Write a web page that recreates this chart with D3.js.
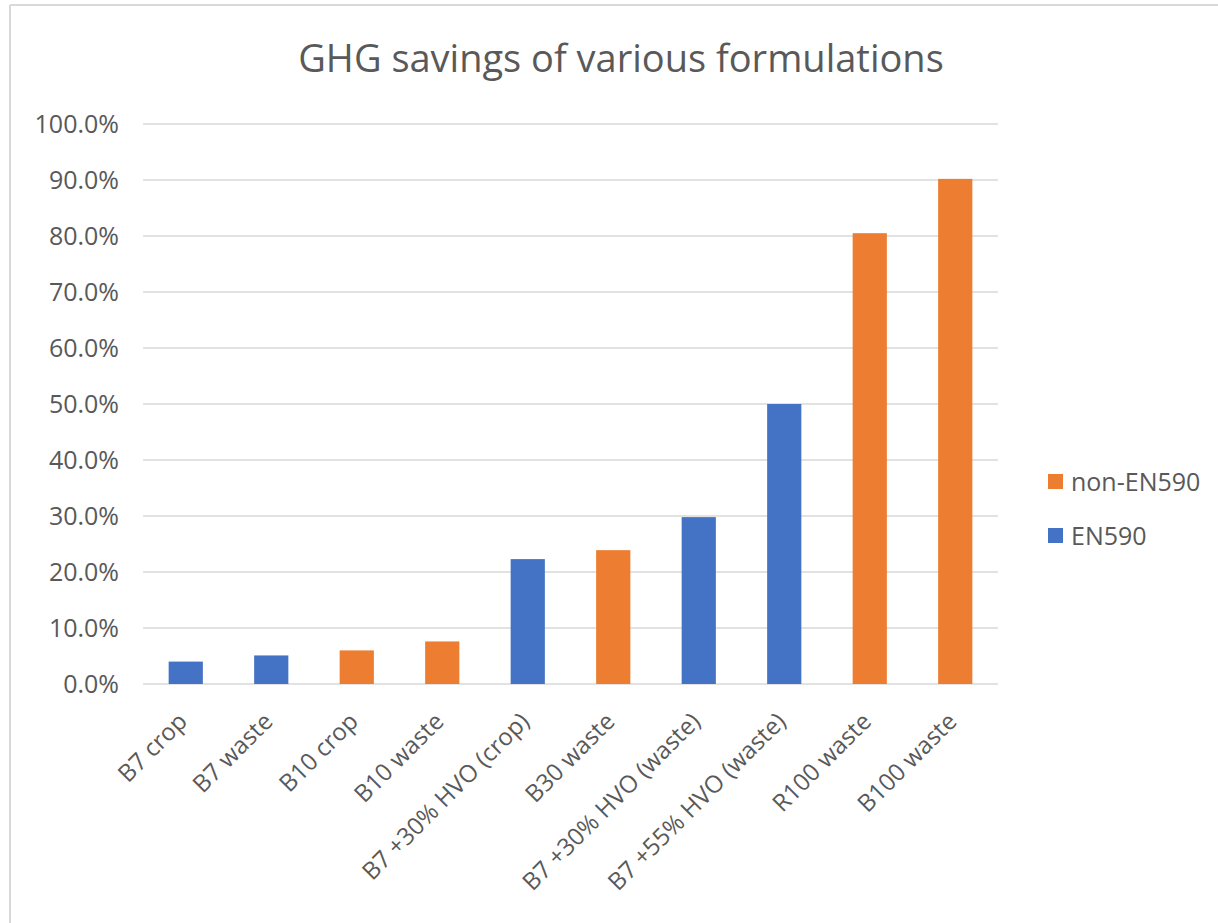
<!DOCTYPE html>
<html>
<head>
<meta charset="utf-8">
<script src="https://cdn.jsdelivr.net/npm/d3@7"></script>
<style>
  html, body { margin: 0; padding: 0; background: #fff; }
  svg { display: block; }
  text { font-family: "Open Sans", "Noto Sans", sans-serif; fill: #595959; }
</style>
</head>
<body>
<svg id="chart" width="1218" height="923"></svg>
<script>
const categories = ["B7 crop", "B7 waste", "B10 crop", "B10 waste", "B7 +30% HVO (crop)",
  "B30 waste", "B7 +30% HVO (waste)", "B7 +55% HVO (waste)", "R100 waste", "B100 waste"];
const values = [0.040, 0.051, 0.060, 0.076, 0.223, 0.239, 0.298, 0.500, 0.805, 0.902];
const groups = ["EN590", "EN590", "non-EN590", "non-EN590", "EN590",
  "non-EN590", "EN590", "EN590", "non-EN590", "non-EN590"];
const legendItems = ["non-EN590", "EN590"];
const yTicks = [0, 0.1, 0.2, 0.3, 0.4, 0.5, 0.6, 0.7, 0.8, 0.9, 1.0];
const title = "GHG savings of various formulations";

const colors = { "EN590": "#4472C4", "non-EN590": "#ED7D31" };

const svg = d3.select("#chart");
const W = 1218, H = 923;
const plot = { left: 143, right: 998, top: 124, bottom: 684 };

// chart frame (left + top border)
svg.append("line").attr("x1", 10).attr("x2", 10).attr("y1", 5).attr("y2", H)
  .attr("stroke", "#d9d9d9").attr("stroke-width", 2);
svg.append("line").attr("x1", 10).attr("x2", W).attr("y1", 5).attr("y2", 5)
  .attr("stroke", "#d9d9d9").attr("stroke-width", 2);

const x = d3.scaleBand().domain(categories).range([plot.left, plot.right]).paddingInner(0.6).paddingOuter(0.3);
const y = d3.scaleLinear().domain([0, 1]).range([plot.bottom, plot.top]);

// gridlines
svg.append("g").selectAll("line").data(yTicks).join("line")
  .attr("x1", plot.left).attr("x2", plot.right)
  .attr("y1", d => y(d)).attr("y2", d => y(d))
  .attr("stroke", "#d9d9d9").attr("stroke-width", 1.5);

// y axis labels
const yAxis = d3.axisLeft(y).tickValues(yTicks).tickFormat(d3.format(".1%")).tickSize(0).tickPadding(0);
const gy = svg.append("g").attr("transform", `translate(119,0)`).call(yAxis);
gy.select(".domain").remove();
gy.selectAll("text").attr("font-size", 25).attr("fill", "#595959")
  .attr("font-family", "Open Sans, sans-serif");

// bars
svg.append("g").selectAll("rect").data(categories).join("rect")
  .attr("x", d => x(d))
  .attr("width", x.bandwidth())
  .attr("y", (d, i) => y(values[i]))
  .attr("height", (d, i) => y(0) - y(values[i]))
  .attr("fill", (d, i) => colors[groups[i]]);

// x axis labels
const xAxis = d3.axisBottom(x).tickSize(0).tickPadding(0);
const gx = svg.append("g").attr("transform", `translate(0,${plot.bottom})`).call(xAxis);
gx.select(".domain").remove();
gx.selectAll("text")
  .attr("font-size", 24).attr("fill", "#595959").attr("font-family", "Open Sans, sans-serif")
  .attr("text-anchor", "end")
  .attr("dy", "0.35em")
  .attr("transform", "translate(-3,33) rotate(-45)");

// title
svg.append("text").attr("x", 621).attr("y", 72).attr("text-anchor", "middle")
  .attr("font-size", 38).attr("fill", "#595959").text(title);

// legend
const lg = svg.append("g").selectAll("g").data(legendItems).join("g")
  .attr("transform", (d, i) => `translate(1048,${474 + i * 54})`);
lg.append("rect").attr("width", 15).attr("height", 15).attr("fill", d => colors[d]);
lg.append("text").attr("x", 23).attr("y", 8).attr("dy", "0.35em")
  .attr("font-size", 25).attr("fill", "#595959").text(d => d);
</script>
</body>
</html>
